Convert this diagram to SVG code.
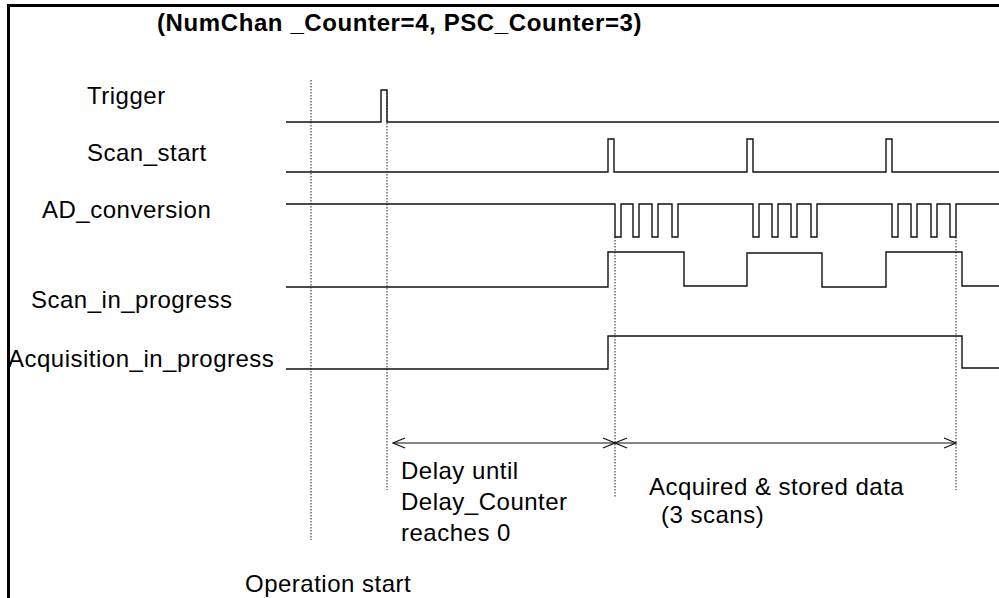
<svg xmlns="http://www.w3.org/2000/svg" width="999" height="598" viewBox="0 0 999 598">
<style>
.lbl{font-family:"Liberation Sans",Arial,sans-serif;font-size:24px;letter-spacing:0.5px;fill:#000}
.ttl{font-family:"Liberation Sans",Arial,sans-serif;font-size:24px;font-weight:bold;letter-spacing:0.6px;fill:#000}
.sig{fill:none;stroke:#111;stroke-width:1.4}
.dot{fill:none;stroke:#222;stroke-width:1;stroke-dasharray:1.5 1.5}
.arr{fill:none;stroke:#111;stroke-width:1.2}
</style>
<defs>
<marker id="ah" viewBox="0 0 14 12" refX="13" refY="6" markerWidth="14" markerHeight="12" markerUnits="userSpaceOnUse" orient="auto-start-reverse">
<path d="M1,1 L13,6 L1,11" fill="none" stroke="#111" stroke-width="1.2"/>
</marker>
</defs>
<rect width="999" height="598" fill="#fff"/>
<g id="frame">
<line x1="7" y1="5.5" x2="999" y2="5.5" stroke="#000" stroke-width="3"/>
<line x1="8.5" y1="4" x2="8.5" y2="598" stroke="#000" stroke-width="3"/>
</g>
<g id="title"><text class="ttl" x="157" y="31">(NumChan _Counter=4, PSC_Counter=3)</text></g>
<g id="trigger">
<text class="lbl" x="87" y="104">Trigger</text>
<path class="sig" d="M286,122 H381 V90 H387 V122 H999"/>
</g>
<g id="scan_start">
<text class="lbl" x="87" y="161">Scan_start</text>
<path class="sig" d="M286,172 H608 V139 H614 V172 H747 V139 H753 V172 H886 V139 H892 V172 H999"/>
</g>
<g id="ad_conversion">
<text class="lbl" x="42" y="218">AD_conversion</text>
<path class="sig" d="M286,204 H615 V237 H621 V204 H633 V237 H639 V204 H652 V237 H658 V204 H672 V237 H678 V204 H753 V237 H759 V204 H772 V237 H778 V204 H791 V237 H797 V204 H811 V237 H817 V204 H892 V237 H898 V204 H911 V237 H917 V204 H931 V237 H937 V204 H950 V237 H956 V204 H999"/>
</g>
<g id="scan_in_progress">
<text class="lbl" x="31" y="308">Scan_in_progress</text>
<path class="sig" d="M286,287 H608 V252 H684 V286 H747 V253 H822 V287 H886 V252 H962 V286 H999"/>
</g>
<g id="acquisition_in_progress">
<text class="lbl" x="8" y="367">Acquisition_in_progress</text>
<path class="sig" d="M286,369 H608 V336 H962 V368 H999"/>
</g>
<g id="connectors">
<line class="dot" x1="311" y1="80" x2="311" y2="540"/>
<line class="dot" x1="387" y1="90" x2="387" y2="490"/>
<line class="dot" x1="615" y1="237" x2="615" y2="498"/>
<line class="dot" x1="956" y1="237" x2="956" y2="490"/>
<line class="arr" x1="393" y1="443" x2="615" y2="443" marker-start="url(#ah)" marker-end="url(#ah)"/>
<line class="arr" x1="615" y1="443" x2="956" y2="443" marker-start="url(#ah)" marker-end="url(#ah)"/>
</g>
<g id="annotations">
<text class="lbl" x="401" y="479">Delay until</text>
<text class="lbl" x="401" y="510">Delay_Counter</text>
<text class="lbl" x="401" y="541">reaches 0</text>
<text class="lbl" x="649" y="495">Acquired &amp; stored data</text>
<text class="lbl" x="661" y="523">(3 scans)</text>
<text class="lbl" x="245" y="592">Operation start</text>
</g>
</svg>
